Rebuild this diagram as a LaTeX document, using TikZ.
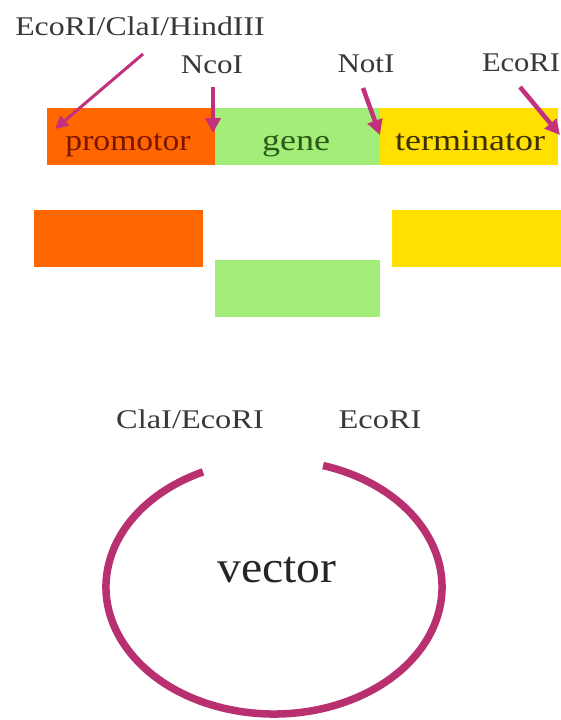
\documentclass[tikz,border=0pt]{standalone}
\usepackage{fontspec}
\setmainfont{Liberation Serif}
\usetikzlibrary{arrows.meta}
\definecolor{prom}{HTML}{FF6600}
\definecolor{genec}{HTML}{A2EE78}
\definecolor{term}{HTML}{FFE000}
\definecolor{mag}{HTML}{C3307C}
\definecolor{vec}{HTML}{B8306F}
\definecolor{lbl}{HTML}{383838}
\definecolor{promtxt}{HTML}{7A1500}
\definecolor{genetxt}{HTML}{2E5A18}
\definecolor{termtxt}{HTML}{3A3000}
\newcommand\widetext[2]{\scalebox{#1}[1]{#2}}
\begin{document}
\begin{tikzpicture}[x=1pt,y=-1pt,
  lab/.style={font=\fontsize{27}{30}\selectfont, text=lbl, anchor=base, inner sep=0pt},
  bartxt/.style={font=\fontsize{30}{33}\selectfont, anchor=base, inner sep=0pt},
  arr/.style={draw=mag, line width=4.5pt, -{Triangle[length=15pt,width=15pt]}},
  seg/.style={inner sep=0pt, outer sep=0pt}]
\useasboundingbox (0,0) rectangle (561,720);
\fill[white] (0,0) rectangle (561,720);

% top bar
\fill[prom] (47,108) rectangle (215,165);
\fill[genec] (215,108) rectangle (380,165);
\fill[term] (380,108) rectangle (558,165);
\node[bartxt, text=promtxt] (tprom) at (128,150) {\widetext{1.12}{promotor}};
\node[bartxt, text=genetxt] (tgene) at (296,150) {\widetext{1.2}{gene}};
\node[bartxt, text=termtxt] (tterm) at (470,150) {\widetext{1.2}{terminator}};

% labels
\node[lab] (l1) at (140,35) {\widetext{1.18}{EcoRI/ClaI/HindIII}};
\node[lab] (l2) at (212,73) {\widetext{1.15}{NcoI}};
\node[lab] (l3) at (366,72) {\widetext{1.15}{NotI}};
\node[lab] (l4) at (521,71) {\widetext{1.13}{EcoRI}};

% arrows
\coordinate (a1s) at (143,54);  \coordinate (a1e) at (55,129);
\coordinate (a2s) at (213,87);  \coordinate (a2e) at (213,133);
\coordinate (a3s) at (363,88);  \coordinate (a3e) at (380,135);
\coordinate (a4s) at (520,87);  \coordinate (a4e) at (560,135);
\draw[arr, line width=3pt, -{Triangle[length=13pt,width=13pt]}] (a1s) -- (a1e);
\draw[arr] (a2s) -- (a2e);
\draw[arr] (a3s) -- (a3e);
\draw[arr] (a4s) -- (a4e);

% separated fragments
\fill[prom] (34,210) rectangle (203,267);
\fill[genec] (215,260) rectangle (380,317);
\fill[term] (392,210) rectangle (561,267);

% vector
\node[lab] (v1) at (190,428) {\widetext{1.2}{ClaI/EcoRI}};
\node[lab] (v2) at (380,428) {\widetext{1.2}{EcoRI}};
\draw[vec, line width=7.5pt] (274,587) ++(-73:168 and 127) arc[start angle=-73, end angle=245, x radius=168, y radius=127];
\node[font=\fontsize{45}{50}\selectfont, text=black!85, anchor=base, inner sep=0pt] (vt) at (277,582) {\widetext{1.06}{vector}};
\end{tikzpicture}
\end{document}
